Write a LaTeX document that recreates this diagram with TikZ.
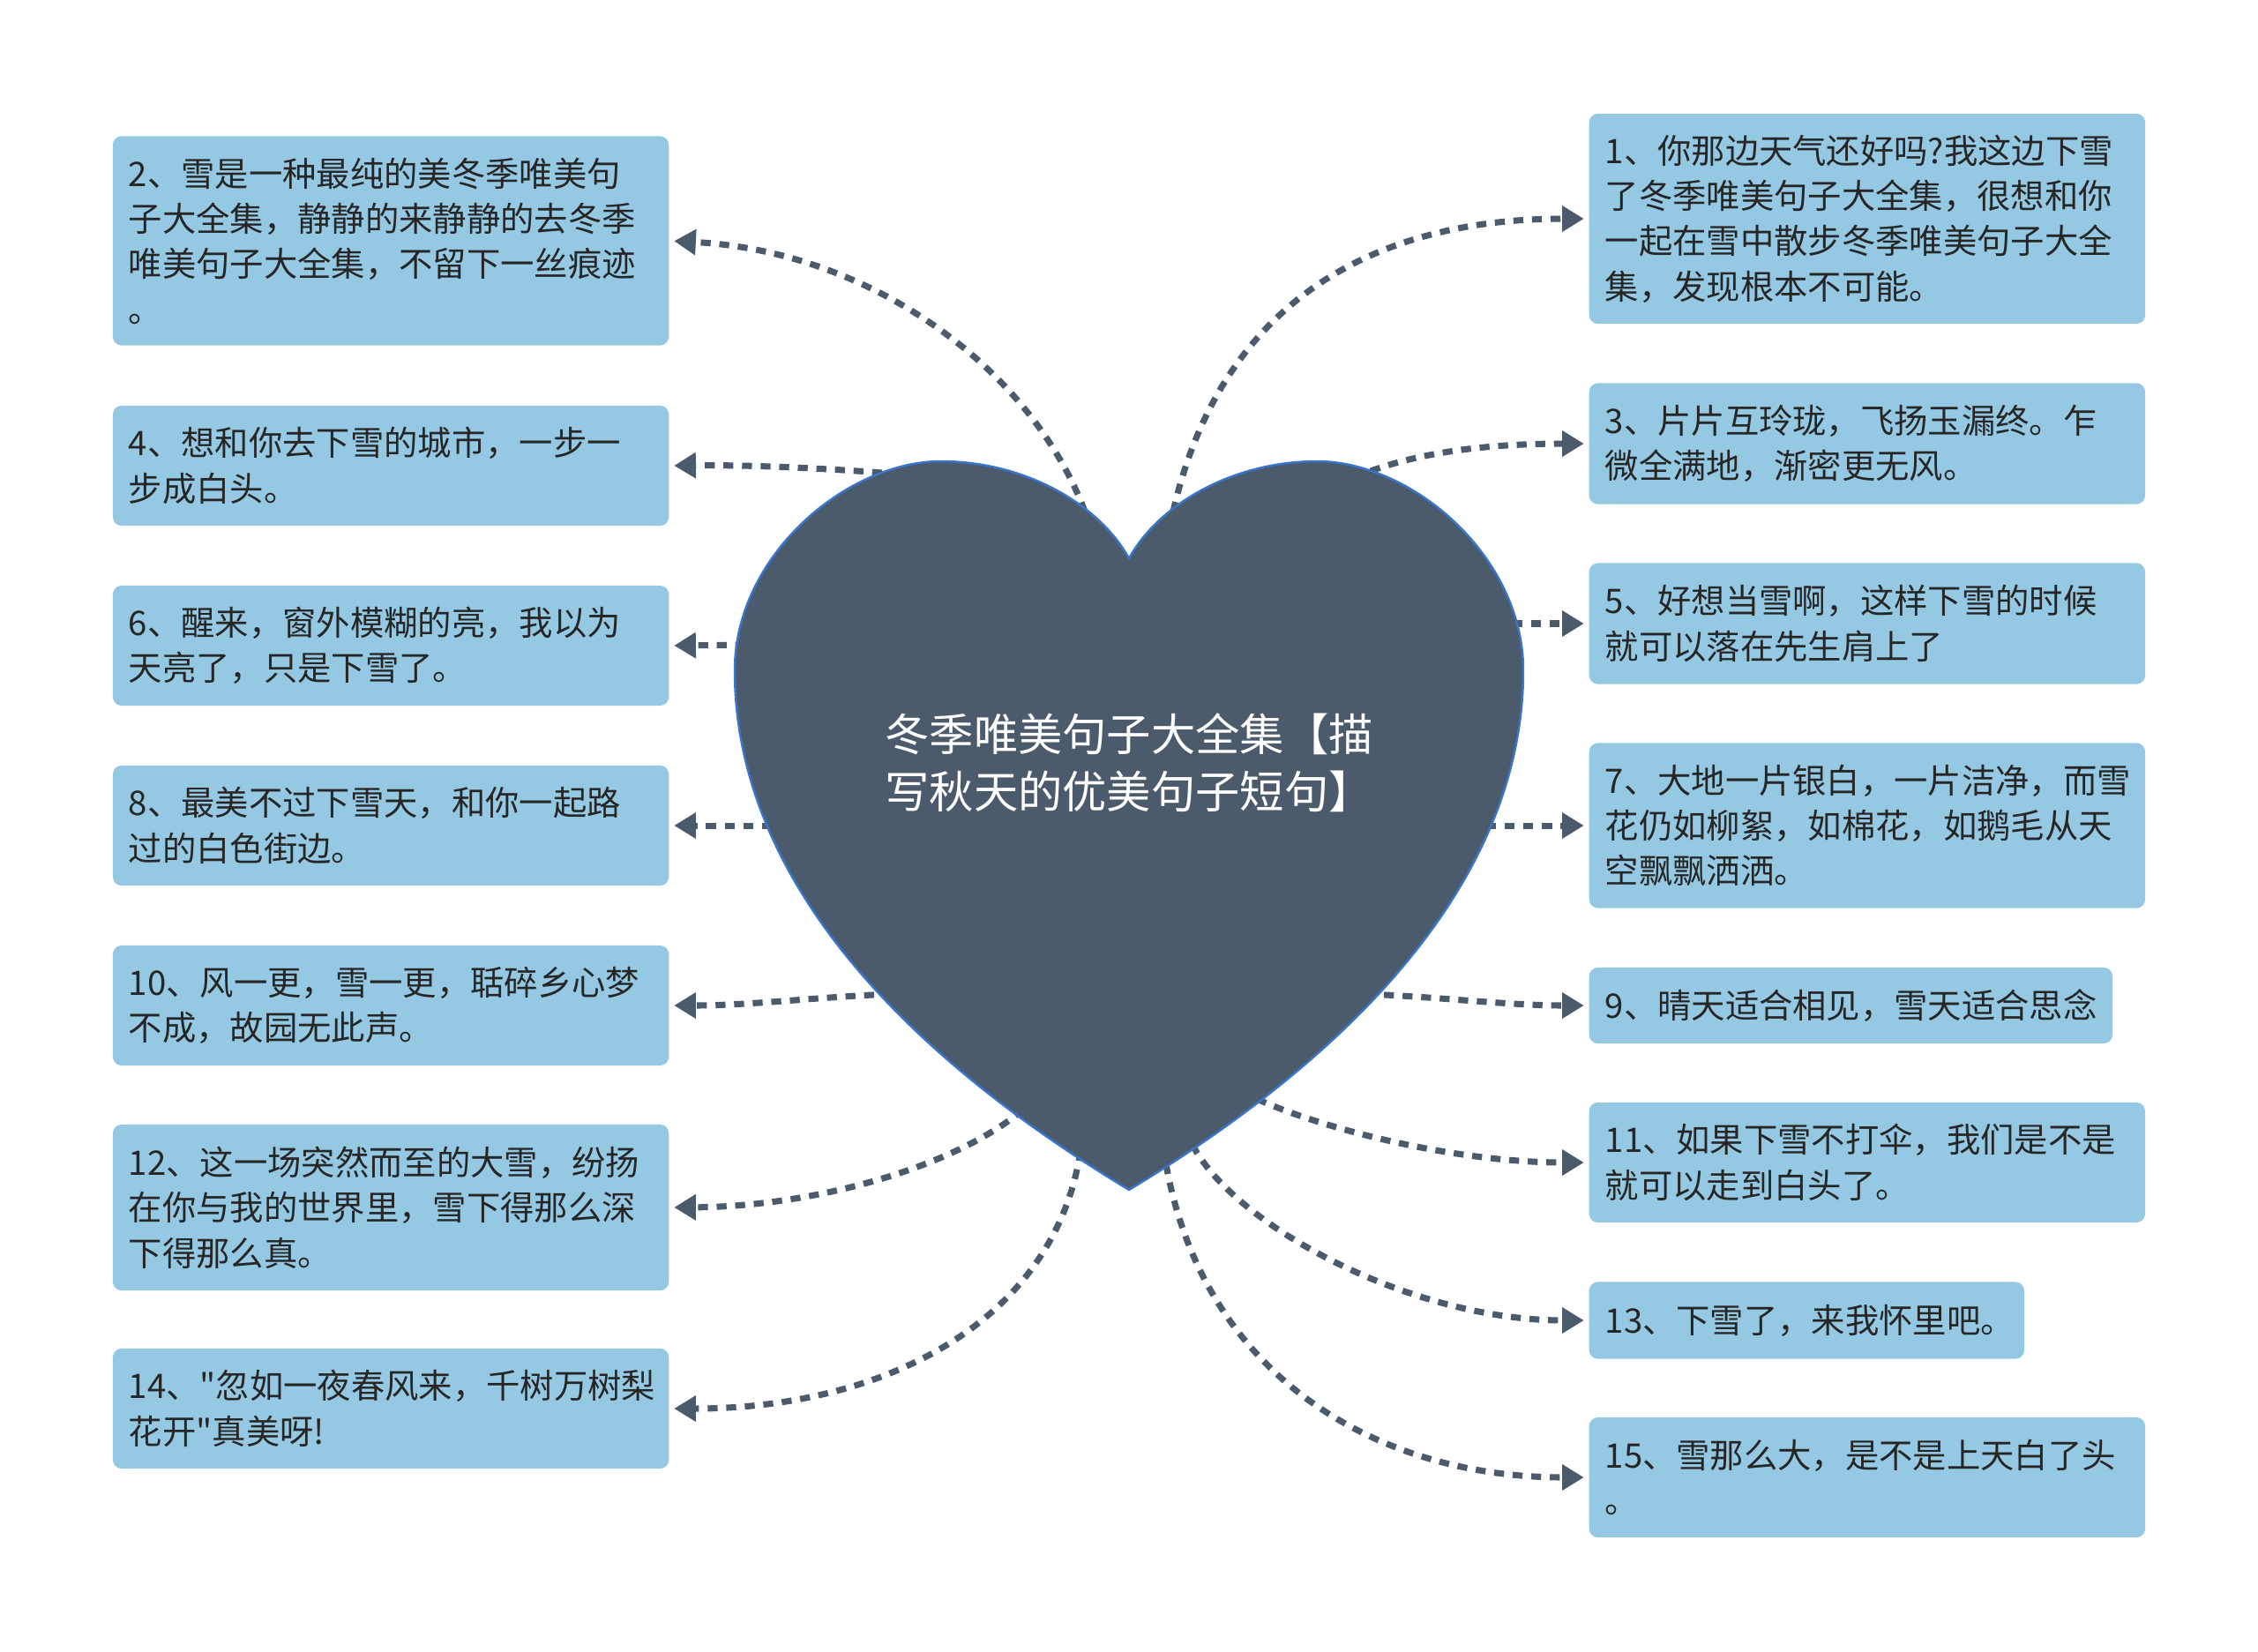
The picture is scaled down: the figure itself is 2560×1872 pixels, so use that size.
\documentclass[tikz,border=0pt]{standalone}
\usepackage{fontspec}
\newfontfamily\cjk{Noto Sans CJK SC}
\usepackage{tikz}
\usetikzlibrary{arrows.meta}
\definecolor{leafblue}{HTML}{95C9E3}
\definecolor{slate}{HTML}{4B5B6B}
\definecolor{rim}{HTML}{3A75C9}
\definecolor{ink}{HTML}{262626}

\begin{document}
\begin{tikzpicture}[x=0.01cm,y=-0.01cm,>={Triangle[length=7pt,width=8pt]},
    leaf/.style={fill=leafblue,rounded corners=2.8pt,text=ink,align=left,
        inner xsep=0.18cm,inner ysep=0pt,text width=5.94cm,
        font=\cjk\fontsize{10.9pt}{14.6pt}\selectfont},
    link/.style={slate,line width=2pt,dash pattern=on 3.2pt off 2.8pt,->,shorten >=1.5pt}]
    \useasboundingbox (0,0) rectangle (2560,1872);
    % --- left column ---
    \node[leaf,anchor=east,minimum height=2.37cm] (n2) at (759,273) {2、雪是一种最纯的美冬季唯美句\\子大全集，静静的来静静的去冬季\\唯美句子大全集，不留下一丝痕迹\\。};
    \node[leaf,anchor=east,minimum height=1.36cm] (n4) at (759,528) {4、想和你去下雪的城市，一步一\\步成白头。};
    \node[leaf,anchor=east,minimum height=1.36cm] (n6) at (759,732) {6、醒来，窗外模糊的亮，我以为\\天亮了，只是下雪了。};
    \node[leaf,anchor=east,minimum height=1.36cm] (n8) at (759,936) {8、最美不过下雪天，和你一起路\\过的白色街边。};
    \node[leaf,anchor=east,minimum height=1.36cm] (n10) at (759,1140) {10、风一更，雪一更，聒碎乡心梦\\不成，故园无此声。};
    \node[leaf,anchor=east,minimum height=1.88cm] (n12) at (759,1369) {12、这一场突然而至的大雪，纷扬\\在你与我的世界里，雪下得那么深\\下得那么真。};
    \node[leaf,anchor=east,minimum height=1.36cm] (n14) at (759,1597) {14、"忽如一夜春风来，千树万树梨\\花开"真美呀!};
    % --- right column ---
    \node[leaf,anchor=west,minimum height=2.38cm] (n1) at (1801,248) {1、你那边天气还好吗?我这边下雪\\了冬季唯美句子大全集，很想和你\\一起在雪中散步冬季唯美句子大全\\集，发现根本不可能。};
    \node[leaf,anchor=west,minimum height=1.37cm] (n3) at (1801,503) {3、片片互玲珑，飞扬玉漏终。乍\\微全满地，渐密更无风。};
    \node[leaf,anchor=west,minimum height=1.37cm] (n5) at (1801,707) {5、好想当雪啊，这样下雪的时候\\就可以落在先生肩上了};
    \node[leaf,anchor=west,minimum height=1.87cm] (n7) at (1801,936) {7、大地一片银白，一片洁净，而雪\\花仍如柳絮，如棉花，如鹅毛从天\\空飘飘洒洒。};
    \node[leaf,anchor=west,minimum height=0.86cm,text width=5.57cm] (n9) at (1801,1140) {9、晴天适合相见，雪天适合思念};
    \node[leaf,anchor=west,minimum height=1.36cm] (n11) at (1801,1318) {11、如果下雪不打伞，我们是不是\\就可以走到白头了。};
    \node[leaf,anchor=west,minimum height=0.87cm,text width=4.57cm] (n13) at (1801,1497) {13、下雪了，来我怀里吧。};
    \node[leaf,anchor=west,minimum height=1.36cm] (n15) at (1801,1675) {15、雪那么大，是不是上天白了头\\。};
    % --- points on the heart where the links leave ---
    \coordinate (s1) at (1330,580);  \coordinate (s2) at (1230,580);
    \coordinate (s3) at (1554,534);  \coordinate (s4) at (1000,536);
    \coordinate (s5) at (1715,707);  \coordinate (s6) at (845,731);
    \coordinate (s7) at (1685,936);  \coordinate (s8) at (875,936);
    \coordinate (s9) at (1548,1127); \coordinate (s10) at (1012,1127);
    \coordinate (s11) at (1425,1246); \coordinate (s12) at (1160,1258);
    \coordinate (s13) at (1352,1298); \coordinate (s14) at (1225,1305);
    \coordinate (s15) at (1322,1320);
    % --- links ---
    \draw[link] (s2) .. controls (1170,420) and (990,285) .. (n2.east);
    \draw[link] (s4) .. controls (920,530) and (840,527) .. (n4.east);
    \draw[link] (s6) -- (n6.east);
    \draw[link] (s8) -- (n8.east);
    \draw[link] (s10) .. controls (930,1130) and (850,1140) .. (n10.east);
    \draw[link] (s12) .. controls (1080,1325) and (920,1368) .. (n12.east);
    \draw[link] (s14) .. controls (1195,1500) and (1000,1597) .. (n14.east);
    \draw[link] (s1) .. controls (1385,340) and (1560,248) .. (n1.west);
    \draw[link] (s3) .. controls (1620,510) and (1700,503) .. (n3.west);
    \draw[link] (s5) -- (n5.west);
    \draw[link] (s7) -- (n7.west);
    \draw[link] (s9) .. controls (1630,1130) and (1710,1140) .. (n9.west);
    \draw[link] (s11) .. controls (1500,1280) and (1650,1318) .. (n11.west);
    \draw[link] (s13) .. controls (1400,1390) and (1600,1497) .. (n13.west);
    \draw[link] (s15) .. controls (1365,1560) and (1560,1675) .. (n15.west);
    % --- heart ---
    \filldraw[fill=slate,draw=rim,line width=0.7pt]
        (1280,633) .. controls (1245,570) and (1160,523) .. (1067,523)
        .. controls (960,523) and (833,630) .. (833,760)
        .. controls (833,980) and (1000,1180) .. (1280,1349)
        .. controls (1560,1180) and (1727,980) .. (1727,760)
        .. controls (1727,630) and (1600,523) .. (1493,523)
        .. controls (1400,523) and (1315,570) .. (1280,633) -- cycle;
    \node[text=white,align=left,font=\cjk\fontsize{14.3pt}{18.4pt}\selectfont] (root) at (1280,865) {冬季唯美句子大全集【描\\写秋天的优美句子短句】};
\end{tikzpicture}
\end{document}
